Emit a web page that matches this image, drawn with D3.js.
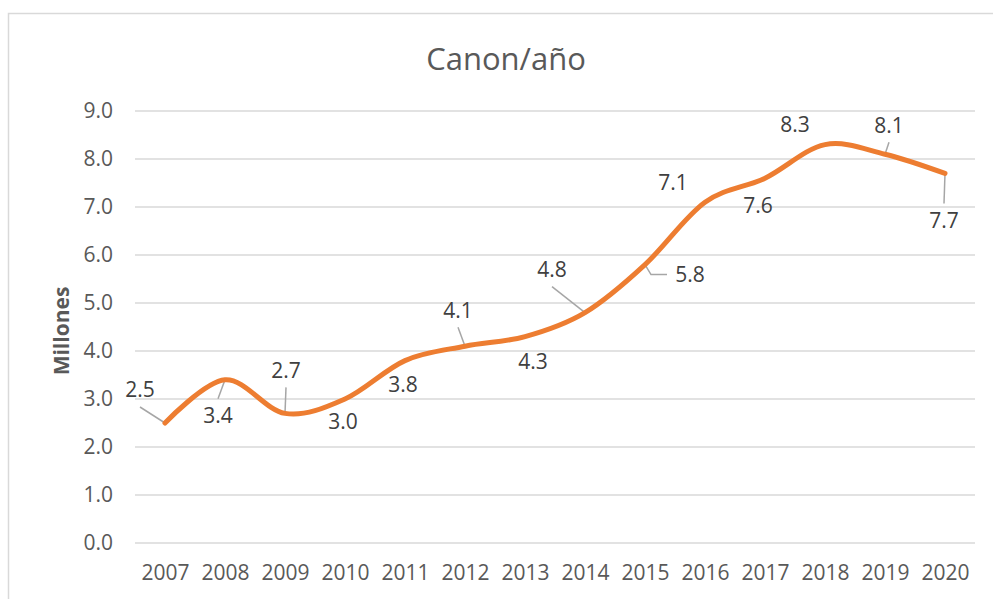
<!DOCTYPE html>
<html>
<head>
<meta charset="utf-8">
<script src="https://cdn.jsdelivr.net/npm/d3@7"></script>
<style>
  body { margin: 0; background: #fff; }
  svg text { font-family: 'Open Sans', sans-serif; }
</style>
</head>
<body>
<div id="chart"></div>
<script>
const years = ['2007', '2008', '2009', '2010', '2011', '2012', '2013', '2014', '2015', '2016', '2017', '2018', '2019', '2020'];
const canon = [2.5, 3.4, 2.7, 3.0, 3.8, 4.1, 4.3, 4.8, 5.8, 7.1, 7.6, 8.3, 8.1, 7.7];
const yTicks = [0, 1, 2, 3, 4, 5, 6, 7, 8, 9];

// label placement (pixel offsets from the point), leader = draw leader line
const labelPos = [
  [-25, -33, true], [-7, 36, true], [1, -43, true], [-2, 23, false],
  [-2, 24, false], [-7, -36, true], [8, 25, false], [-33, -43, true],
  [45, 10, true], [-32, -20, false], [-7, 27, false], [-30, -20, false],
  [4, -29, true], [-1, 47, true]
];

const W = 993, H = 599;
const margin = { top: 111, right: 18, bottom: 56, left: 135 },
      width = W - margin.left - margin.right,
      height = H - margin.top - margin.bottom;

const svg = d3.select('#chart').append('svg')
    .attr('width', W)
    .attr('height', H);

svg.append('rect')
    .attr('x', 8.5).attr('y', 13.5)
    .attr('width', 1000).attr('height', 700)
    .attr('fill', 'none')
    .attr('stroke', '#d9d9d9')
    .attr('stroke-width', 1.5);

svg.append('text')
    .attr('x', 506).attr('y', 70)
    .attr('text-anchor', 'middle')
    .style('font-size', '31px')
    .style('fill', '#595959')
    .text('Canon/año');

svg.append('text')
    .attr('transform', 'translate(69,' + (margin.top + height / 2 + 4) + ') rotate(-90)')
    .attr('text-anchor', 'middle')
    .style('font-size', '21px')
    .style('font-weight', 'bold')
    .style('fill', '#595959')
    .text('Millones');

const g = svg.append('g')
    .attr('transform', 'translate(' + margin.left + ',' + margin.top + ')');

const x = d3.scalePoint().domain(years).range([0, width]).padding(0.5);
const y = d3.scaleLinear().domain([0, 9]).range([height, 0]);

// gridlines
g.append('g').selectAll('line')
    .data(yTicks)
  .enter().append('line')
    .attr('x1', 0).attr('x2', width)
    .attr('y1', d => y(d)).attr('y2', d => y(d))
    .attr('stroke', '#d9d9d9')
    .attr('stroke-width', 1.5);

const yAxis = g.append('g')
    .call(d3.axisLeft(y).tickValues(yTicks).tickFormat(d3.format('.1f')).tickSize(0).tickPadding(22));
yAxis.select('.domain').remove();
yAxis.selectAll('text').style('font-size', '21px').style('fill', '#595959').style('font-family', "'Open Sans', sans-serif");

const xAxis = g.append('g')
    .attr('transform', 'translate(0,' + height + ')')
    .call(d3.axisBottom(x).tickSize(0).tickPadding(22));
xAxis.select('.domain').remove();
xAxis.selectAll('text').style('font-size', '21px').style('fill', '#595959').style('font-family', "'Open Sans', sans-serif");

const data = years.map((yr, i) => ({ year: yr, value: canon[i], pos: labelPos[i] }));

const line = d3.line()
    .x(d => x(d.year))
    .y(d => y(d.value))
    .curve(d3.curveCardinal.tension(0));

// leader lines
g.append('g').selectAll('path')
    .data(data.filter(d => d.pos[2]))
  .enter().append('path')
    .attr('fill', 'none')
    .attr('stroke', '#a6a6a6')
    .attr('stroke-width', 1.5)
    .attr('d', d => {
      const px = x(d.year), py = y(d.value);
      const cx = px + d.pos[0], cy = py + d.pos[1];
      if (Math.abs(d.pos[1]) > Math.abs(d.pos[0]) * 0.6) {
        const sy = cy + (d.pos[1] < 0 ? 17 : -17);
        return 'M' + cx + ',' + sy + 'L' + px + ',' + py;
      }
      const sx = cx + (d.pos[0] > 0 ? -23 : 23);
      const ex = px + (d.pos[0] > 0 ? 6 : -6);
      return 'M' + sx + ',' + cy + 'L' + ex + ',' + cy + 'L' + px + ',' + py;
    });

g.append('path')
    .datum(data)
    .attr('fill', 'none')
    .attr('stroke', '#ed7d31')
    .attr('stroke-width', 5)
    .attr('stroke-linecap', 'round')
    .attr('stroke-linejoin', 'round')
    .attr('d', line);

g.append('g').selectAll('text')
    .data(data)
  .enter().append('text')
    .attr('x', d => x(d.year) + d.pos[0])
    .attr('y', d => y(d.value) + d.pos[1])
    .attr('dy', '0.35em')
    .attr('text-anchor', 'middle')
    .style('font-size', '21px')
    .style('fill', '#404040')
    .text(d => d3.format('.1f')(d.value));
</script>
</body>
</html>
